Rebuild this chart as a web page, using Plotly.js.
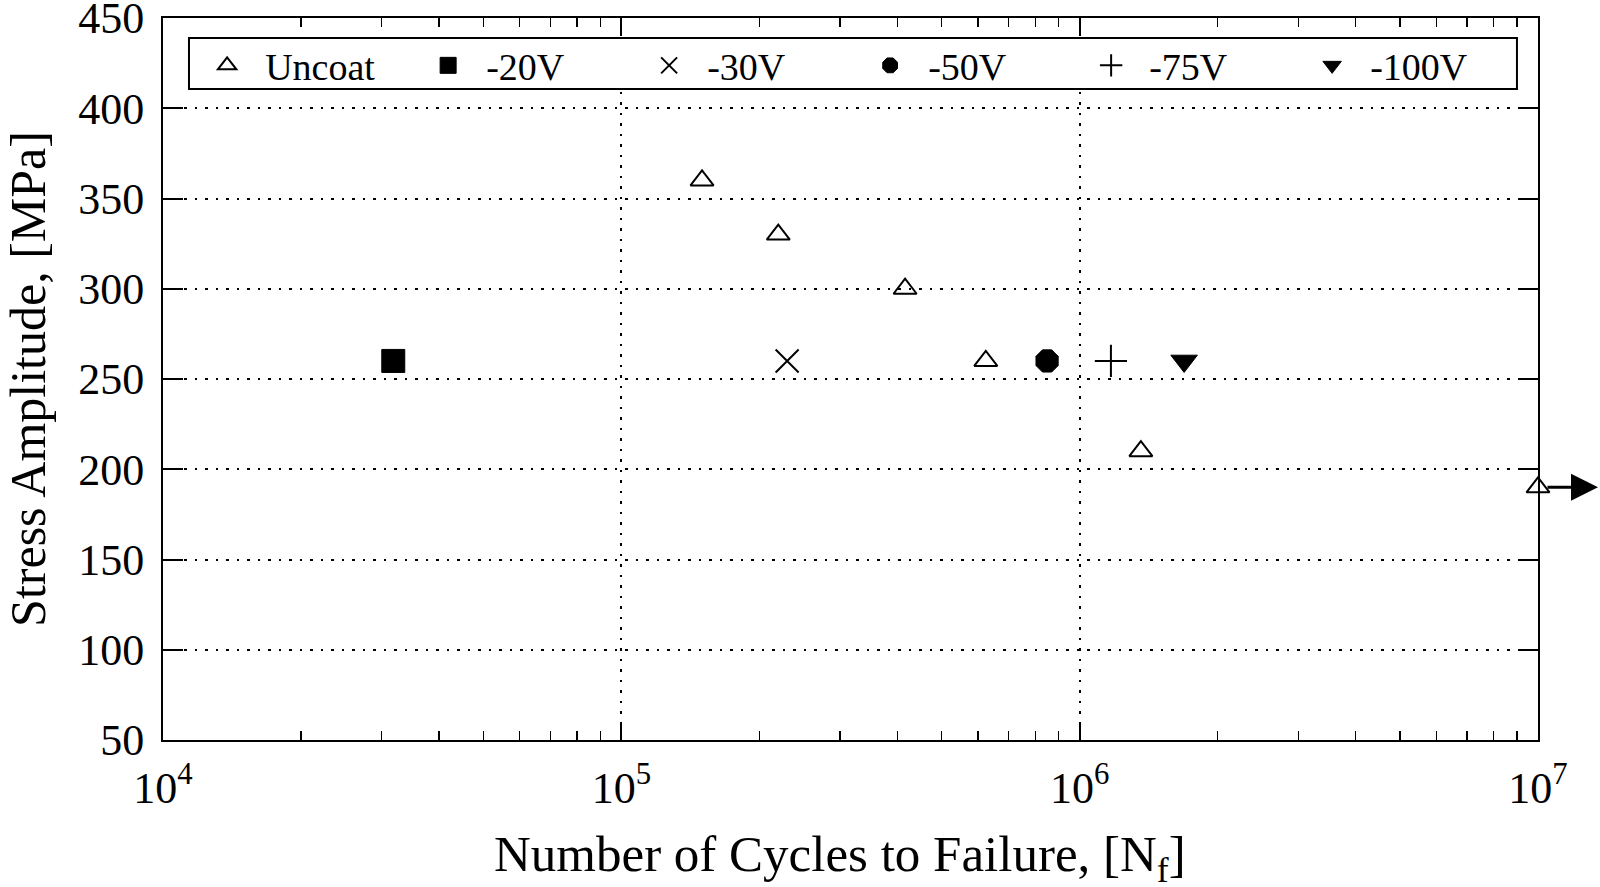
<!DOCTYPE html>
<html>
<head>
<meta charset="utf-8">
<script src="https://cdn.plot.ly/plotly-3.0.1.min.js"></script>
<style>html,body{margin:0;padding:0;background:#fff;}#chart{width:1600px;height:887px;}</style>
</head>
<body>
<div id="chart"></div>
<script>
// ---- data ----
const uncoatCycles = [1.50e5, 2.20e5, 4.16e5, 6.24e5, 1.36e6, 1.0e7];
const uncoatStress = [360, 330, 300, 260, 210, 190];
const v20Cycles = [3.18e4];   const v20Stress = [260];
const v30Cycles = [2.30e5];   const v30Stress = [260];
const v50Cycles = [8.49e5];   const v50Stress = [260];
const v75Cycles = [1.17e6];   const v75Stress = [260];
const v100Cycles = [1.69e6];  const v100Stress = [260];
const runoutCycles = 1.0e7;   const runoutStress = 190;
const xTickVals = [1e4, 1e5, 1e6, 1e7];
const xTickText = ['10<sup>4</sup>', '10<sup>5</sup>', '10<sup>6</sup>', '10<sup>7</sup>'];
const xTitle = 'Number of Cycles to Failure, [N<sub>f</sub>]';
const yTitle = 'Stress Amplitude, [MPa]';

const FONT = 'Liberation Serif, Times New Roman, serif';

function tr(name, x, y, symbol, size, lw) {
  return {
    type: 'scatter', mode: 'markers', name: name, x: x, y: y, cliponaxis: false,
    marker: {symbol: symbol, size: size, color: 'black', line: {color: 'black', width: lw}}
  };
}

const data = [
  tr('Uncoat', uncoatCycles, uncoatStress, 'triangle-up-open', 20, 2),
  tr('-20V', v20Cycles, v20Stress, 'square', 23, 1),
  tr('-30V', v30Cycles, v30Stress, 'x-thin-open', 23, 2),
  tr('-50V', v50Cycles, v50Stress, 'octagon', 24, 1),
  tr('-75V', v75Cycles, v75Stress, 'cross-thin-open', 23, 2),
  tr('-100V', v100Cycles, v100Stress, 'triangle-down', 23, 1),
  // helper trace so the top axis (minor ticks) is drawn
  {type: 'scatter', mode: 'markers', x: [], y: [], xaxis: 'x2', yaxis: 'y', showlegend: false, hoverinfo: 'skip'}
];

const gridDash = '3px,8px,2px,8px';

const layout = {
  width: 1600, height: 887,
  margin: {l: 163, r: 62, t: 18, b: 147},
  paper_bgcolor: 'white', plot_bgcolor: 'white',
  font: {family: FONT, color: 'black', size: 40},
  showlegend: true,
  legend: {
    orientation: 'h', x: 0.019, y: 0.934, xanchor: 'left', yanchor: 'middle',
    borderwidth: 0, bgcolor: 'rgba(0,0,0,0)',
    font: {family: FONT, size: 38, color: 'black'},
    entrywidth: 140, entrywidthmode: 'pixels', itemwidth: 66, itemsizing: 'trace'
  },
  shapes: [{
    type: 'rect', xref: 'paper', yref: 'paper',
    x0: 0.0189, x1: 0.9847, y0: 0.9017, y1: 0.9723,
    line: {color: 'black', width: 2}, fillcolor: 'white', layer: 'above'
  }],
  xaxis: {
    type: 'log', range: [4, 7],
    tickvals: xTickVals, ticktext: xTickText,
    ticks: 'inside', ticklen: 18, tickwidth: 2, tickcolor: 'black',
    minor: {ticks: 'inside', ticklen: 9, tickwidth: 1.5, tickcolor: 'black', dtick: 'D1', showgrid: false},
    showline: true, linecolor: 'black', linewidth: 2, mirror: 'ticks',
    showgrid: true, gridcolor: 'black', gridwidth: 2, griddash: gridDash,
    zeroline: false, ticklabelstandoff: 8,
    tickfont: {family: FONT, size: 44}
  },
  xaxis2: {
    type: 'log', range: [4, 7], overlaying: 'x', side: 'top',
    tickvals: xTickVals, showticklabels: false,
    ticks: 'inside', ticklen: 18, tickwidth: 2, tickcolor: 'black',
    minor: {ticks: 'inside', ticklen: 9, tickwidth: 1.5, tickcolor: 'black', dtick: 'D1', showgrid: false},
    showline: false, showgrid: false, zeroline: false
  },
  yaxis: {
    range: [50, 450], dtick: 50, tick0: 0,
    ticks: 'inside', ticklen: 20, tickwidth: 2, tickcolor: 'black',
    showline: true, linecolor: 'black', linewidth: 2, mirror: 'ticks',
    showgrid: true, gridcolor: 'black', gridwidth: 2, griddash: gridDash,
    zeroline: false, ticklabelstandoff: 8, ticklabeloverflow: 'allow',
    tickfont: {family: FONT, size: 44},
    title: {text: yTitle, font: {family: FONT, size: 50}, standoff: 34}
  },
  annotations: [{
    x: Math.log10(runoutCycles), y: runoutStress, xref: 'x', yref: 'y',
    text: '', showarrow: true, ax: -52, ay: 0, xshift: 60,
    arrowhead: 2, arrowsize: 1.8, arrowwidth: 3, arrowcolor: 'black', startstandoff: 0
  }, {
    x: 0.492, y: -0.164, xref: 'paper', yref: 'paper', xanchor: 'center', yanchor: 'middle',
    text: xTitle, showarrow: false, font: {family: FONT, size: 51, color: 'black'}
  }]
};

Plotly.newPlot('chart', data, layout, {displayModeBar: false, staticPlot: true});
</script>
</body>
</html>
